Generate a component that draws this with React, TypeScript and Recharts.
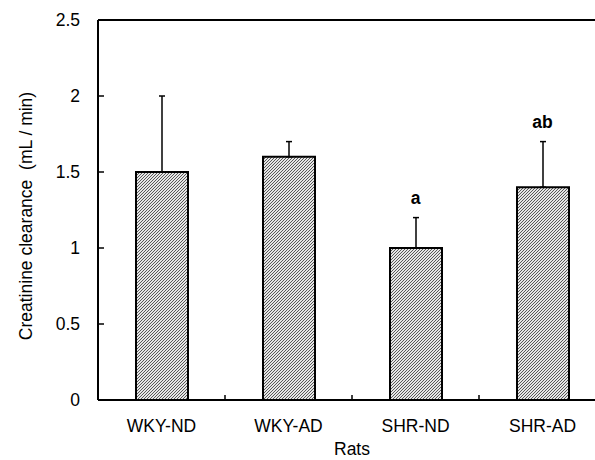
import React from 'react';
import { ComposedChart, Bar, ErrorBar, Scatter, XAxis, YAxis, ReferenceLine, Label } from 'recharts';

const groups = ['WKY-ND', 'WKY-AD', 'SHR-ND', 'SHR-AD'];
const means = [1.5, 1.6, 1.0, 1.4];
const sds = [0.5, 0.1, 0.2, 0.3];
const letters = ['', '', 'a', 'ab'];
const yTicks = [0, 0.5, 1, 1.5, 2, 2.5];

const data = groups.map((name, i) => ({
  name,
  value: means[i],
  err: [0, sds[i]],
  top: means[i] + sds[i],
  letter: letters[i],
}));

const FONT = '"Liberation Sans", Arial, Helvetica, sans-serif';
const FS = 17.5;
const X_MARGIN = 26;
const Y_MARGIN = 18;

const XTick = (props: any) => {
  const { x, y, payload, index, visibleTicksCount, width } = props;
  const half = payload.offset ?? width / visibleTicksCount / 2;
  const axisY = y - X_MARGIN;
  return (
    <g>
      <text x={x} y={y} dy="0.35em" textAnchor="middle" fontSize={FS} fill="#000" fontFamily={FONT}>
        {payload.value}
      </text>
      {index < visibleTicksCount - 1 && (
        <line x1={x + half} x2={x + half} y1={axisY} y2={axisY - 5} stroke="#000" strokeWidth={1.5} />
      )}
    </g>
  );
};

const YTick = (props: any) => {
  const { x, y, payload } = props;
  const axisX = x + Y_MARGIN;
  return (
    <g>
      <text x={x} y={y} dy="0.35em" textAnchor="end" fontSize={FS} fill="#000" fontFamily={FONT}>
        {payload.value}
      </text>
      <line x1={axisX} x2={axisX + 6} y1={y} y2={y} stroke="#000" strokeWidth={1.5} />
    </g>
  );
};

const renderLetter = (props: any) => {
  const { cx, cy, payload } = props;
  if (!payload.letter) return <g />;
  return (
    <text x={cx} y={cy - 14} textAnchor="middle" fontSize={FS} fontWeight="bold" fill="#000" fontFamily={FONT}>
      {payload.letter}
    </text>
  );
};

export default function App() {
  return (
    <div style={{ position: 'absolute', left: 0, top: 0, width: 595, height: 460, overflow: 'hidden', background: '#fff' }}>
      <ComposedChart width={620} height={460} data={data} margin={{ top: 20, right: 14, bottom: 20, left: 38 }}>
        <defs>
          <pattern id="hatch" width={3} height={3} patternUnits="userSpaceOnUse">
            <rect width={3} height={3} fill="#e6e6e6" />
            <path d="M0,3 L3,0 M-1,1 L1,-1 M2,4 L4,2" stroke="#333" strokeWidth={0.8} />
          </pattern>
        </defs>
        <XAxis
          dataKey="name"
          height={40}
          tickSize={0}
          tickMargin={X_MARGIN}
          tick={<XTick />}
          axisLine={{ stroke: '#000', strokeWidth: 2 }}
          interval={0}
        >
          <Label value="Rats" position="bottom" offset={3} fontSize={FS} fill="#000" fontFamily={FONT} />
        </XAxis>
        <YAxis
          width={60}
          domain={[0, 2.5]}
          ticks={yTicks}
          interval={0}
          tickSize={0}
          tickMargin={Y_MARGIN}
          tick={<YTick />}
          axisLine={{ stroke: '#000', strokeWidth: 2 }}
        >
          <Label
            content={({ viewBox }: any) => (
              <text
                x={viewBox.x - 12}
                y={viewBox.y + viewBox.height / 2 + 6}
                transform={`rotate(-90, ${viewBox.x - 12}, ${viewBox.y + viewBox.height / 2 + 6})`}
                textAnchor="middle"
                dy="0.35em"
                fontSize={FS}
                fill="#000"
                fontFamily={FONT}
                style={{ whiteSpace: 'pre' }}
              >
                {'Creatinine clearance  (mL / min)'}
              </text>
            )}
          />
        </YAxis>
        <ReferenceLine y={2.5} stroke="#000" strokeWidth={2} />
        <Bar dataKey="value" barSize={52} fill="url(#hatch)" stroke="#000" strokeWidth={2} isAnimationActive={false}>
          <ErrorBar dataKey="err" width={3} stroke="#000" strokeWidth={1.5} direction="y" />
        </Bar>
        <Scatter dataKey="top" shape={renderLetter} isAnimationActive={false} />
      </ComposedChart>
    </div>
  );
}
